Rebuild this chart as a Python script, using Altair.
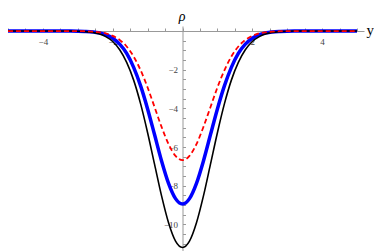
import altair as alt
import pandas as pd

x_vals = [-5, -4, -3.2, -2.8, -2.4, -2.2, -2.0, -1.8, -1.6, -1.4, -1.2, -1.0, -0.8, -0.6, -0.4, -0.2,
          0, 0.2, 0.4, 0.6, 0.8, 1.0, 1.2, 1.4, 1.6, 1.8, 2.0, 2.2, 2.4, 2.8, 3.2, 4, 5]
black_vals = [0, 0, 0, -0.03, -0.14, -0.29, -0.54, -0.97, -1.62, -2.54, -3.77, -5.26, -6.90, -8.53, -9.92, -10.87,
              -11.2, -10.87, -9.92, -8.53, -6.90, -5.26, -3.77, -2.54, -1.62, -0.97, -0.54, -0.29, -0.14, -0.03, 0, 0, 0]
blue_vals = [0, 0, 0, -0.02, -0.09, -0.19, -0.37, -0.68, -1.16, -1.88, -2.84, -4.03, -5.37, -6.72, -7.88, -8.67,
             -8.95, -8.67, -7.88, -6.72, -5.37, -4.03, -2.84, -1.88, -1.16, -0.68, -0.37, -0.19, -0.09, -0.02, 0, 0, 0]
red_vals = [0, 0, 0, -0.01, -0.06, -0.12, -0.25, -0.46, -0.80, -1.32, -2.03, -2.92, -3.94, -4.96, -5.85, -6.46,
            -6.68, -6.46, -5.85, -4.96, -3.94, -2.92, -2.03, -1.32, -0.80, -0.46, -0.25, -0.12, -0.06, -0.01, 0, 0, 0]

x_ticks = [-5, -4.5, -4, -3.5, -3, -2.5, -2, -1.5, -1, -0.5, 0, 0.5, 1, 1.5, 2, 2.5, 3, 3.5, 4, 4.5, 5]
y_ticks = [-11, -10.5, -10, -9.5, -9, -8.5, -8, -7.5, -7, -6.5, -6, -5.5, -5, -4.5, -4, -3.5, -3,
           -2.5, -2, -1.5, -1, -0.5, 0]

rows = []
for name, vals in [("black", black_vals), ("blue", blue_vals), ("red", red_vals)]:
    for xv, yv in zip(x_vals, vals):
        rows.append({"x": xv, "rho": yv, "s": name})
df = pd.DataFrame(rows)

label_expr = "(datum.value % 2 === 0 && datum.value !== 0) ? format(datum.value, '~g') : ''"

xaxis = alt.Axis(orient="top", offset=-5, values=x_ticks, tickSize=3, labelExpr=label_expr,
                 labelBaseline="top", labelPadding=-9, labelFont="Liberation Serif", labelFontSize=9,
                 labelColor="#444444", domainColor="#999999", tickColor="#999999", grid=False,
                 labelOverlap=False, labelFlush=False,
                 title="y", titleX=358, titleY=3, titleAlign="left", titleBaseline="alphabetic",
                 titleFont="Liberation Serif", titleFontSize=15, titleFontWeight="normal", titleColor="#000000")
yaxis = alt.Axis(orient="right", offset=-181.5, values=y_ticks, tickSize=3, labelExpr=label_expr,
                 labelAlign="right", labelBaseline="middle", labelPadding=-8,
                 labelFont="Liberation Serif", labelFontSize=9, labelColor="#444444",
                 domainColor="#999999", tickColor="#999999", grid=False, labelOverlap=False, labelFlush=False,
                 title="ρ", titleAngle=0, titleX=-1, titleY=-5.5, titleAlign="center", titleBaseline="alphabetic",
                 titleFont="Liberation Serif", titleFontSize=14, titleFontStyle="italic",
                 titleFontWeight="normal", titleColor="#000000")

base = alt.Chart(df).encode(
    x=alt.X("x:Q", scale=alt.Scale(domain=[-5, 5.2], nice=False, zero=False), axis=xaxis),
    y=alt.Y("rho:Q", scale=alt.Scale(domain=[-11.38, 0.26], nice=False, zero=False), axis=yaxis),
)

blue = base.transform_filter("datum.s === 'blue'").mark_line(color="#0000ff", strokeWidth=3.5, interpolate="monotone")
black = base.transform_filter("datum.s === 'black'").mark_line(color="#000000", strokeWidth=1.6, interpolate="monotone")
red = base.transform_filter("datum.s === 'red'").mark_line(color="#ff0000", strokeWidth=1.8, strokeDash=[5, 3],
                                                         interpolate="monotone")

chart = alt.layer(blue, black, red).properties(
    width=356, height=225,
    autosize=alt.AutoSizeParams(type="none"),
    padding={"left": 0, "top": 18, "right": 10, "bottom": 0},
    background="white",
).configure_view(stroke=None)

chart.save("out.html", embed_options={"renderer": "svg", "actions": False})
